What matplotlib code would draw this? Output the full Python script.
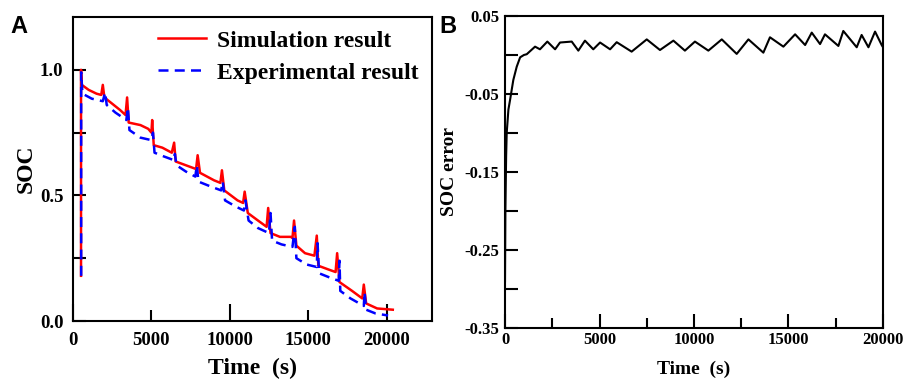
import numpy as np
import matplotlib.pyplot as plt

# panel A: estimated SOC vs time
sim_t = [510, 510, 560, 1000, 1500, 1800, 1900, 2000, 2400, 3000, 3350, 3450, 3550,
         4300, 4800, 5000, 5050, 5150, 5700, 6300, 6450, 6550, 7200, 7850, 7950, 8100,
         9000, 9400, 9500, 9650, 10500, 10850, 10950, 11150, 11800, 12350, 12450, 12600,
         13200, 13900, 14000, 14100, 14250, 14800, 15400, 15550, 15650, 16300, 16750,
         16850, 17000, 17800, 18450, 18550, 18700, 19400, 20400]
sim_soc = [0.18, 1.0, 0.94, 0.92, 0.905, 0.90, 0.94, 0.89, 0.87, 0.84, 0.82, 0.89, 0.79,
           0.78, 0.765, 0.75, 0.80, 0.70, 0.69, 0.67, 0.71, 0.635, 0.62, 0.605, 0.66, 0.59,
           0.56, 0.55, 0.60, 0.52, 0.48, 0.47, 0.515, 0.43, 0.40, 0.375, 0.45, 0.35,
           0.335, 0.335, 0.33, 0.40, 0.30, 0.27, 0.26, 0.34, 0.22, 0.205, 0.195,
           0.27, 0.155, 0.12, 0.09, 0.145, 0.07, 0.05, 0.045]

exp_t = [520, 520, 600, 1200, 1900, 2050, 2150, 2700, 3400, 3500, 3600, 4300, 5000, 5100,
         5200, 5800, 6450, 6500, 6600, 7200, 7800, 7900, 8000, 8800, 9450, 9550, 9700,
         10400, 10900, 11000, 11200, 11800, 12500, 12600, 12700, 13300, 14000, 14150,
         14250, 14900, 15550, 15600, 15700, 16300, 16950, 17000, 17050, 17700, 18550,
         18600, 18700, 19300, 20100]
exp_soc = [0.18, 0.99, 0.905, 0.885, 0.875, 0.91, 0.86, 0.83, 0.80, 0.85, 0.76, 0.73, 0.72,
           0.75, 0.67, 0.655, 0.64, 0.665, 0.62, 0.595, 0.575, 0.62, 0.555, 0.535, 0.52,
           0.555, 0.48, 0.455, 0.44, 0.48, 0.40, 0.37, 0.35, 0.43, 0.32, 0.305, 0.295,
           0.375, 0.25, 0.225, 0.215, 0.31, 0.19, 0.175, 0.16, 0.24, 0.12, 0.09, 0.06,
           0.115, 0.045, 0.03, 0.022]

# panel B: SOC error vs time
err_t = [0, 20, 60, 90, 180, 265, 440, 620, 800, 1000, 1150, 1590, 1850, 2240, 2650, 2910,
         3530, 3880, 4230, 4670, 5030, 5560, 5910, 6700, 7500, 8200, 8910, 9520, 10050,
         10760, 11470, 12260, 12880, 13670, 14020, 14730, 15350, 15880, 16230, 16670,
         16930, 17640, 17900, 18610, 18870, 19230, 19580, 19930, 20000]
err_val = [-0.29, -0.2, -0.13, -0.10, -0.07, -0.058, -0.032, -0.015, -0.003, 0.0, 0.001,
           0.0107, 0.0073, 0.0172, 0.0073, 0.016, 0.0172, 0.0056, 0.0184, 0.0073, 0.016,
           0.0073, 0.0164, 0.0043, 0.020, 0.0064, 0.0184, 0.0056, 0.0172, 0.0056, 0.020,
           0.0014, 0.020, 0.003, 0.0227, 0.0107, 0.0265, 0.0128, 0.0287, 0.014, 0.0265,
           0.0116, 0.0308, 0.0099, 0.0257, 0.0099, 0.030, 0.0128, 0.010]

serif = 'Liberation Serif'

fig = plt.figure(figsize=(9.06, 3.79), dpi=100)
axA = fig.add_axes([0.0806, 0.153, 0.3962, 0.802])
axB = fig.add_axes([0.5574, 0.1346, 0.4172, 0.8232])

# ---- A ----
axA.plot(sim_t, sim_soc, color='#ff0000', lw=1.8, label='Simulation result')
axA.plot(exp_t, exp_soc, color='#0000ff', lw=1.8, dashes=(4, 2.5), label='Experimental result')
axA.set_xlim(0, 22900)
axA.set_ylim(0, 1.21)
axA.set_xticks([0, 10000, 20000], labels=['0', '10000', '20000'])
axA.set_xticks([5000, 15000], labels=['5000', '15000'], minor=True)
axA.set_yticks([0, 0.5, 1.0], labels=['0.0', '0.5', '1.0'])
axA.set_yticks([0.25, 0.75], minor=True)
axA.tick_params(axis='x', which='major', direction='in', length=12, width=1.5, pad=8)
axA.tick_params(axis='x', which='minor', direction='in', length=8, width=1.5, pad=8)
axA.tick_params(axis='y', which='both', direction='in', length=9, width=1.5, pad=7)
for lab in axA.get_xticklabels(which='both') + axA.get_yticklabels():
    lab.set_fontfamily(serif)
    lab.set_fontweight('bold')
    lab.set_fontsize(13.5)
axA.set_xlabel('Time  (s)', fontfamily=serif, fontweight='bold', fontsize=17, labelpad=6)
axA.set_ylabel('SOC', fontfamily=serif, fontweight='bold', fontsize=17, labelpad=2)
leg = axA.legend(loc='upper right', frameon=False, handlelength=2.0, handletextpad=0.5,
                 borderaxespad=0.15, labelspacing=0.45,
                 prop={'family': serif, 'weight': 'bold', 'size': 17})
for sp in axA.spines.values():
    sp.set_linewidth(1.5)

# ---- B ----
axB.plot(err_t, err_val, color='black', lw=1.5)
axB.set_xlim(0, 20000)
axB.set_ylim(-0.35, 0.05)
axB.set_xticks([0, 5000, 10000, 15000, 20000])
axB.set_xticks([2500, 7500, 12500, 17500], minor=True)
axB.set_yticks([0.05, -0.05, -0.15, -0.25, -0.35], labels=['0.05', '-0.05', '-0.15', '-0.25', '-0.35'])
axB.set_yticks([0.0, -0.1, -0.2, -0.3], minor=True)
axB.tick_params(axis='x', which='major', direction='in', length=10, width=1.5, pad=3)
axB.tick_params(axis='x', which='minor', direction='in', length=7, width=1.5, pad=3)
axB.tick_params(axis='y', which='both', direction='in', length=9, width=1.5, pad=4)
for lab in axB.get_xticklabels() + axB.get_yticklabels():
    lab.set_fontfamily(serif)
    lab.set_fontweight('bold')
    lab.set_fontsize(12)
axB.set_xlabel('Time  (s)', fontfamily=serif, fontweight='bold', fontsize=14, labelpad=9)
axB.set_ylabel('SOC error', fontfamily=serif, fontweight='bold', fontsize=14, labelpad=5)
for sp in axB.spines.values():
    sp.set_linewidth(1.5)

fig.text(0.011, 0.913, 'A', fontfamily='Liberation Sans', fontweight='bold', fontsize=17)
fig.text(0.485, 0.913, 'B', fontfamily='Liberation Sans', fontweight='bold', fontsize=17)

fig.savefig('out.png', dpi=100)
